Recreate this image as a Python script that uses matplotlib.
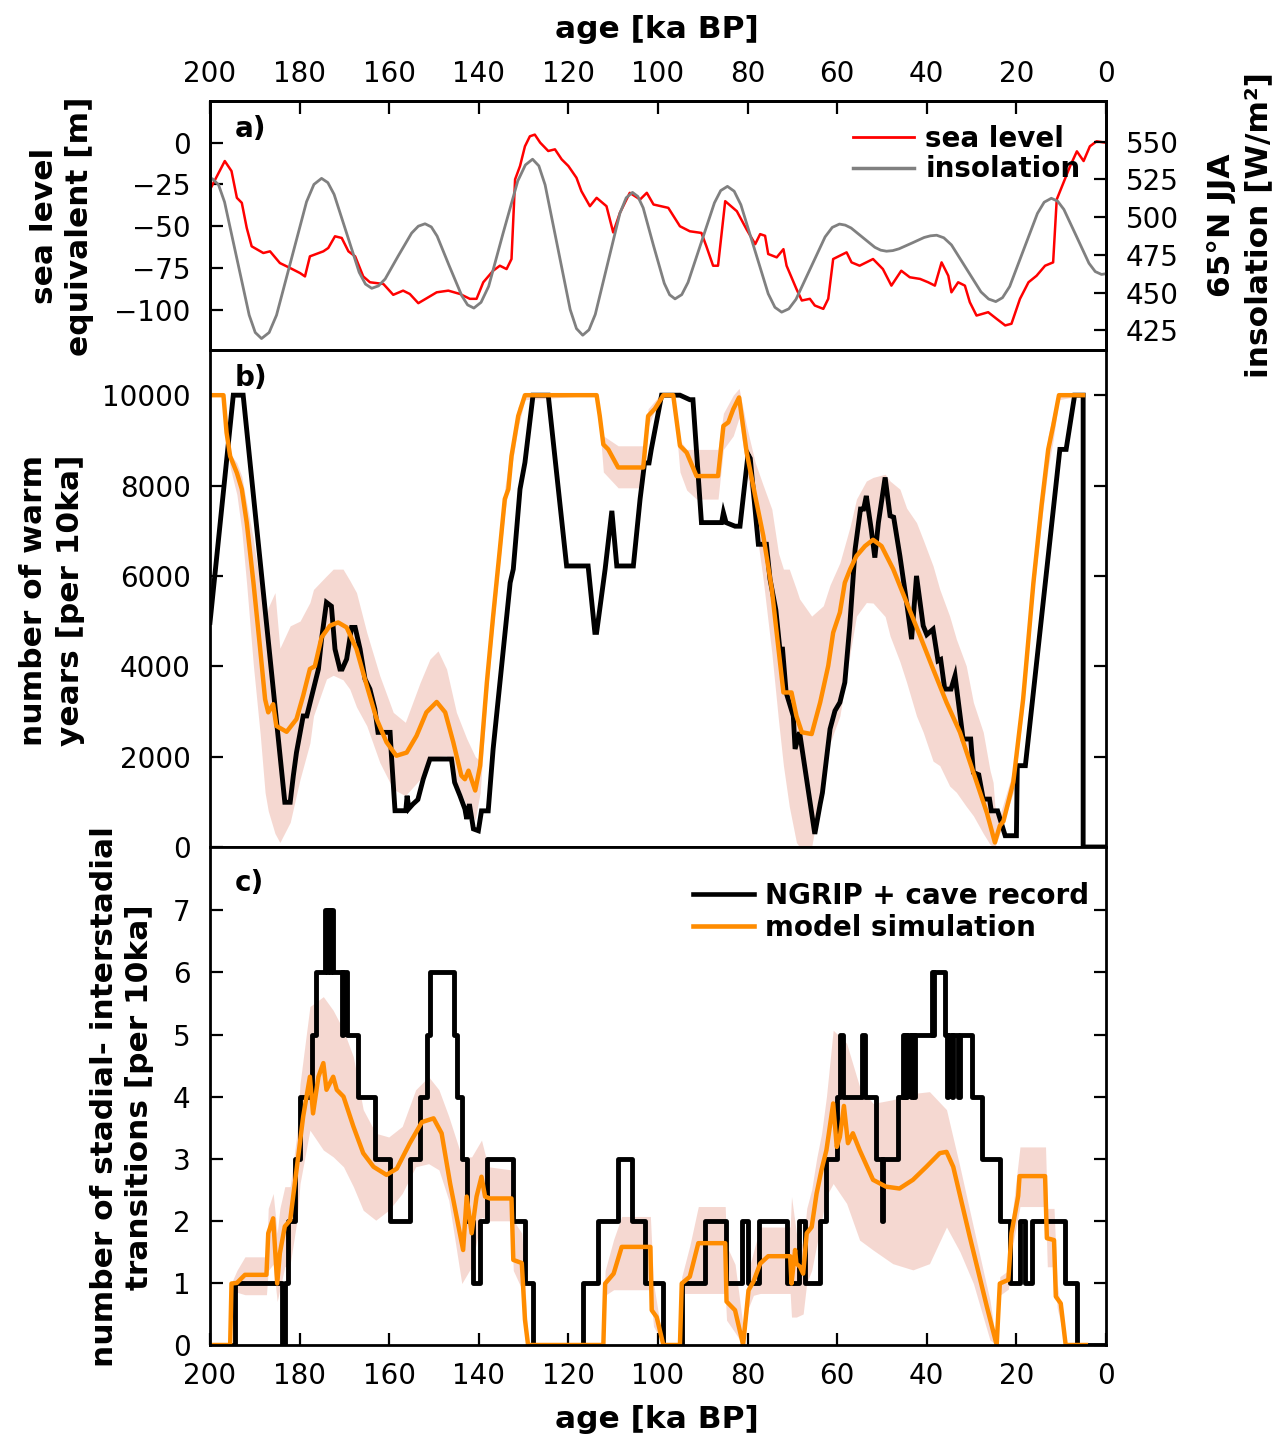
import matplotlib
matplotlib.use("Agg")
import matplotlib.pyplot as plt
from matplotlib.lines import Line2D

# ---- data (age in ka BP) ----
# a) sea level [m]
sl_age = [200.0, 199.6, 196.7, 195.2, 194.0, 192.9, 191.8, 190.7, 188.1, 186.6, 184.4, 182.1, 179.9,
          178.8, 177.7, 174.7, 173.6, 172.1, 170.6, 169.1, 167.6, 165.8, 164.3, 161.3, 159.1, 156.9,
          155.4, 153.5, 151.6, 149.4, 146.8, 144.2, 142.0, 140.5, 139.0, 136.8, 135.3, 133.8, 132.7,
          131.9, 130.8, 129.7, 128.6, 127.5, 126.3, 124.5, 123.0, 121.5, 120.0, 118.2, 117.1, 115.2,
          113.7, 111.5, 110.0, 108.5, 106.3, 104.0, 102.5, 101.0, 97.7, 95.1, 92.9, 90.3, 89.2, 87.7,
          86.6, 85.0, 82.4, 80.2, 78.3, 77.2, 76.1, 75.4, 73.5, 72.0, 71.3, 69.1, 67.9, 66.1, 65.0,
          63.1, 62.0, 60.9, 57.9, 56.8, 55.0, 52.0, 49.8, 47.9, 45.7, 43.8, 41.5, 39.7, 38.2, 36.7,
          35.2, 34.5, 33.0, 31.5, 30.4, 28.9, 26.3, 24.4, 22.5, 21.1, 19.2, 17.3, 15.5, 13.6, 11.8,
          11.0, 9.5, 8.0, 6.5, 5.0, 3.6, 2.1, 0.2]
sl_val = [-28, -26, -11, -17, -33, -36, -51, -62, -66, -65, -72, -75, -78,
          -80, -68, -65, -63, -56, -57, -65, -68, -80, -83.5, -84.5, -91, -88.5,
          -90.5, -96, -93, -89.5, -88.5, -90.5, -93.4, -93.4, -83.5, -76.6, -73.6, -75.6, -69.6,
          -22, -14, -2.2, 3.8, 4.8, 0, -5, -4, -10, -14, -21, -29, -38,
          -33, -38, -53.7, -42, -30, -34, -30, -37, -39, -50, -53, -54, -62, -73.6,
          -73.6, -35, -41, -52, -60.7, -54.7, -55.7, -66.6, -68.6, -63.7, -73.6, -87.5, -94.4, -93.4, -97.4,
          -99.4, -93.4, -69.6, -65.6, -71.6, -73.6, -69.6, -75.6, -85.5, -76.6, -80.5, -81.5, -83.5, -85.5, -71.6,
          -79.6, -89.5, -83.5, -85.5, -95.4, -103.4, -101.4, -105.4, -109.3, -108.3, -93.4, -83.5, -79.6, -73.6, -71.6,
          -34, -24, -14, -5.2, -11, -2.2, 0.8, 0]

# a) 65N JJA insolation [W/m2]
ins_age = [200.0, 199.5, 198.1, 196.75, 194.0, 191.25, 189.9, 188.5, 186.8, 185.15, 181.8, 178.45, 176.8,
           175.1, 173.7, 172.3, 169.5, 166.7, 165.3, 163.9, 162.4, 160.9, 158.0, 155.0, 153.5, 152.0,
           150.6, 149.3, 146.6, 143.8, 142.5, 141.1, 139.5, 137.8, 134.6, 131.3, 129.6, 128.0, 126.6,
           125.2, 122.4, 119.6, 118.2, 116.8, 115.4, 114.0, 111.25, 108.5, 107.1, 105.7, 104.5, 103.3,
           101.0, 98.6, 97.4, 96.2, 94.7, 93.3, 90.35, 87.4, 86.0, 84.5, 83.0, 81.5, 78.45, 75.4, 73.9,
           72.4, 70.8, 69.2, 65.95, 62.7, 61.1, 59.5, 58.2, 56.9, 54.25, 51.6, 50.3, 49.0, 47.6, 46.2,
           43.4, 40.6, 39.2, 37.8, 36.2, 34.5, 31.2, 27.9, 26.2, 24.6, 23.1, 21.5, 18.4, 15.3, 13.8,
           12.2, 10.8, 9.4, 6.6, 3.8, 2.4, 1.0, 0.0]
ins_val = [524.5, 525.5, 521.5, 510.0, 472.5, 435.0, 423.5, 419.5, 423.5, 435.0, 472.6, 510.2, 521.7,
           525.7, 522.9, 515.1, 489.3, 463.4, 455.6, 452.8, 454.4, 459.0, 474.2, 489.4, 494.0, 495.6,
           493.5, 487.4, 467.7, 447.9, 441.8, 439.7, 443.5, 454.1, 489.1, 524.0, 534.6, 538.4, 534.0,
           521.4, 480.1, 438.7, 426.1, 421.7, 425.3, 435.5, 469.1, 502.6, 512.8, 516.4, 513.7, 506.1,
           481.1, 456.1, 448.5, 445.8, 448.6, 456.7, 483.1, 509.5, 517.6, 520.4, 517.2, 508.2, 478.7, 449.2, 440.2,
           437.0, 439.2, 445.5, 466.2, 486.9, 493.2, 495.4, 494.7, 492.8, 486.4, 480.0, 478.1, 477.4, 477.8, 479.0,
           482.7, 486.5, 487.6, 488.0, 486.3, 481.6, 466.0, 450.4, 445.7, 444.0, 446.6, 454.0, 478.3, 502.5, 509.9,
           512.5, 510.6, 505.1, 487.3, 469.4, 463.9, 462.0, 462.5]

# b) number of warm years per 10 ka, NGRIP + cave record
wy_obs_age = [200.0, 194.8, 192.6, 183.3, 182.1, 181.4, 180.7, 179.2, 178.4, 176.9, 175.8, 175.1, 174.0,
              172.9, 172.1, 171.0, 170.5, 169.5, 168.4, 167.6, 166.5, 165.4, 164.3, 163.2, 162.5, 159.8,
              159.5, 158.7, 156.3, 156.0, 155.6, 154.7, 153.6, 152.4, 150.9, 146.1, 145.4, 144.2, 143.1,
              142.7, 142.1, 141.2, 140.1, 139.4, 137.9, 136.8, 134.9, 133.0, 132.3, 130.8, 129.7, 127.9,
              124.5, 120.4, 115.6, 114.1, 113.7, 111.8, 110.3, 109.2, 105.5, 104.0, 103.0, 102.0, 101.5,
              99.2, 95.1, 92.9, 92.2, 90.3, 85.8, 85.4, 84.8, 82.8, 81.7, 79.9, 79.4, 77.6, 75.8, 75.0,
              73.7, 72.8, 72.2, 71.4, 69.8, 69.4, 68.4, 65.0, 63.8, 63.3, 61.6, 60.5, 59.4, 58.3, 57.2,
              56.0, 54.8, 54.1, 53.5, 52.4, 51.6, 50.8, 49.3, 48.2, 47.4, 46.0, 44.5, 43.4, 42.3, 40.8,
              40.0, 38.6, 37.5, 36.9, 36.0, 34.6, 33.7, 33.2, 31.9, 30.2, 29.6, 28.4, 27.4, 26.0, 25.6,
              24.2, 23.3, 22.5, 20.0, 19.8, 18.0, 10.3, 8.9, 7.0, 5.1, 5.1, 0.0]
wy_obs_val = [4970, 10000, 10000, 990, 990, 1577, 2090, 2900, 2900, 3495, 3937, 4600, 5413,
              5330, 4380, 3937, 3937, 4160, 4860, 4860, 4380, 3716, 3495, 3053, 2537, 2537,
              2020, 803, 803, 1135, 850, 950, 1050, 1504, 1947, 1947, 1430, 1135, 840,
              620, 950, 400, 360, 800, 800, 2170, 4000, 5850, 6150, 7920, 8510, 10000,
              10000, 6220, 6220, 4750, 4750, 6150, 7440, 6220, 6220, 7700, 8500, 8500, 8800,
              10000, 10000, 9900, 9900, 7180, 7180, 7400, 7180, 7100, 7100, 8690, 8600, 6700, 6700, 5930,
              5250, 4380, 4380, 3420, 2900, 2170, 2540, 290, 950, 1200, 2610, 3015, 3200, 3640, 4895,
              6590, 7480, 7480, 7770, 7030, 6405, 7180, 8180, 7330, 7300, 6440, 5410, 4600, 6000, 4895,
              4700, 4820, 4120, 4150, 3495, 3495, 3790, 3400, 2390, 2390, 1650, 1600, 1060, 1060, 800,
              800, 510, 250, 250, 1800, 1800, 8800, 8800, 10000, 10000, 0, 0]

# b) model simulation (median) and spread
wy_mod_age = [200.0, 197.0, 196.3, 195.5, 194.0, 192.9, 191.8, 190.3, 188.8, 187.7, 187.0, 185.9, 185.2,
              182.9, 180.7, 179.2, 177.7, 176.6, 175.1, 173.2, 171.4, 169.5, 167.3, 165.0, 162.8, 160.6,
              158.4, 156.1, 153.9, 151.7, 149.4, 147.5, 145.7, 143.9, 143.1, 142.3, 140.8, 139.7, 138.2,
              136.8, 135.3, 134.2, 133.4, 132.7, 131.2, 129.7, 113.7, 113.0, 112.2, 111.1, 108.9, 103.3,
              102.2, 100.7, 98.8, 96.6, 95.1, 93.6, 91.4, 86.6, 85.4, 84.3, 83.2, 81.9, 80.2, 78.3, 76.5,
              74.6, 73.1, 72.0, 70.2, 69.1, 67.9, 65.7, 63.8, 62.0, 60.9, 59.4, 58.3, 57.1, 55.7, 53.8,
              52.0, 50.1, 47.5, 44.5, 41.5, 38.6, 35.6, 32.6, 29.6, 26.6, 24.8, 23.7, 22.9, 20.7, 18.5,
              16.2, 14.4, 12.9, 11.8, 10.5, 5.1]
wy_mod_val = [10000, 10000, 9170, 8650, 8280, 7920, 7180, 5850, 4380, 3270, 2980, 3160, 2680,
              2550, 2830, 3350, 3940, 4000, 4640, 4900, 4970, 4860, 4380, 3570, 2830, 2320,
              2020, 2090, 2460, 2980, 3210, 2980, 2320, 1580, 1500, 1690, 1250, 1800, 3640,
              5110, 6590, 7700, 7920, 8650, 9540, 10000, 10000, 9540, 8910, 8800, 8400, 8400,
              9540, 9700, 10000, 10000, 8880, 8730, 8210, 8210, 9320, 9400, 9690, 9950, 8730, 7770, 6890,
              5710, 4380, 3420, 3420, 2900, 2540, 2500, 3200, 4010, 4745, 5190, 5850, 6150, 6440, 6660,
              6800, 6660, 6150, 5410, 4670, 3940, 3200, 2540, 1650, 760, 100, 470, 570, 1430, 3270,
              5850, 7550, 8800, 9320, 10000, 10000]

wy_band_age = [200.0, 197.0, 196.3, 195.5, 194.0, 192.9, 191.8, 190.3, 188.8, 187.7, 187.0, 185.5, 184.4,
               182.1, 179.9, 177.7, 176.9, 174.0, 172.5, 170.3, 168.8, 167.3, 165.0, 162.1, 159.1, 156.4,
               153.1, 150.9, 149.1, 147.2, 145.0, 142.7, 140.8, 139.7, 138.2, 136.8, 135.3, 134.2, 132.7,
               131.2, 129.7, 113.7, 113.0, 112.2, 108.9, 103.3, 102.2, 99.6, 96.6, 95.1, 93.6, 91.4, 86.6,
               85.4, 83.2, 81.9, 80.2, 78.3, 76.5, 74.6, 73.1, 72.0, 70.7, 69.1, 68.4, 65.7, 63.1, 61.6,
               59.4, 57.1, 55.7, 53.5, 52.0, 49.3, 48.2, 46.0, 44.5, 42.3, 40.8, 38.6, 37.1, 34.9, 33.4,
               31.2, 29.6, 27.4, 25.9, 25.2, 24.8, 23.7, 20.7, 18.5, 16.2, 14.4, 12.9, 11.8, 10.5, 5.1]
wy_band_lo = [10000, 10000, 9000, 8400, 7800, 7000, 5800, 4000, 2500, 1200, 800, 300, 100,
              545, 1500, 2300, 2900, 3720, 3800, 3700, 3495, 3100, 2680, 1870, 1280, 1135,
              1500, 1950, 2000, 2020, 1430, 915, 600, 1200, 3300, 4800, 6300, 7400, 8400,
              9300, 9900, 10000, 9300, 8300, 7950, 7950, 9300, 9950, 10000, 8300, 7900, 7700, 7700,
              8800, 9100, 9500, 8300, 7200, 5900, 4300, 2800, 1800, 900, 100, 0, 0, 1470, 2300,
              2900, 4300, 5110, 5410, 5400, 5100, 4670, 4100, 3640, 2900, 2540, 1900, 1800, 1350, 1210,
              900, 690, 300, 60, 0, 0, 300, 1200, 3000, 5600, 7200, 8400, 9000, 9900, 10000]
wy_band_hi = [10000, 10000, 9200, 8700, 8500, 8200, 7600, 6800, 5800, 5000, 5300, 5630, 4400,
              4895, 5000, 5410, 5700, 6000, 6150, 6150, 5900, 5630, 4745, 3790, 2980, 2760,
              3640, 4160, 4340, 3940, 2980, 2400, 2000, 1900, 3900, 5400, 6900, 7950, 8900,
              9750, 10000, 10000, 9700, 9100, 8880, 8880, 9700, 10000, 10000, 9000, 8800, 8800, 8800,
              9600, 10000, 10150, 9300, 8510, 8000, 7480, 6500, 6150, 6150, 5700, 5490, 5110, 5340, 5800,
              6290, 7100, 7700, 8100, 8180, 8250, 8100, 7920, 7500, 7180, 6800, 6220, 5700, 5110, 4600,
              4010, 3200, 2540, 1700, 1430, 900, 700, 1700, 3600, 6200, 7900, 9100, 9600, 10000, 10000]

# c) stadial-interstadial transitions per 10 ka, record (step changes: level from that age on)
tr_obs_age = [200.0, 194.4, 184.0, 183.3, 182.7, 181.0, 179.9, 177.3, 176.3, 174.3, 173.9, 173.75, 173.2,
              173.05, 172.5, 170.6, 170.25, 169.5, 167.0, 163.2, 159.8, 155.4, 153.1, 151.6, 151.0, 145.6,
              144.9, 143.8, 142.7, 141.2, 139.7, 138.1, 132.3, 129.7, 127.8, 116.7, 113.3, 108.85, 105.9,
              102.9, 98.8, 94.7, 89.5, 84.9, 81.3, 80.0, 77.4, 71.3, 68.6, 67.2, 63.8, 62.5, 60.1, 59.4,
              58.6, 54.5, 53.8, 51.4, 50.0, 49.7, 46.35, 45.3, 45.1, 44.9, 44.6, 44.4, 43.6, 43.3, 42.9,
              42.6, 38.9, 38.6, 38.4, 36.0, 35.5, 35.3, 34.4, 34.1, 33.0, 32.7, 30.0, 27.75, 23.66, 21.43,
              19.2, 18.08, 16.59, 9.15, 6.55, 0.0]
tr_obs_val = [0, 1, 0, 1, 2, 3, 4, 5, 6, 7, 6, 7, 6,
              7, 6, 5, 6, 5, 4, 3, 2, 3, 4, 5, 6, 5,
              4, 3, 2, 1, 2, 3, 2, 1, 0, 1, 2, 3, 2,
              1, 0, 1, 2, 1, 2, 1, 2, 1, 2, 1, 2, 3, 4, 5,
              4, 5, 4, 3, 2, 3, 4, 5, 4, 5, 4, 5, 4, 5, 4,
              5, 6, 5, 6, 5, 4, 5, 4, 5, 4, 5, 4, 3, 2, 1,
              2, 1, 2, 1, 0, 0]

tr_mod_age = [200.0, 195.5, 195.2, 194.0, 192.2, 187.4, 187.0, 185.9, 185.0, 184.4, 183.3, 182.1, 180.6,
              179.2, 177.7, 177.0, 175.8, 174.7, 174.0, 172.5, 171.7, 170.2, 168.0, 165.8, 163.5, 160.6,
              158.3, 155.4, 152.7, 150.1, 148.3, 146.4, 143.5, 142.7, 141.6, 140.5, 139.4, 138.6, 137.5,
              132.7, 132.3, 130.4, 129.7, 129.0, 112.2, 111.8, 109.9, 108.1, 101.7, 101.4, 100.3, 98.8,
              95.1, 94.7, 92.9, 91.0, 85.0, 84.7, 82.8, 81.0, 79.8, 78.7, 77.2, 75.4, 70.5, 70.2, 69.4,
              69.1, 68.3, 67.6, 66.8, 65.7, 64.6, 63.5, 62.4, 60.9, 60.1, 59.4, 58.5, 57.6, 56.5, 55.0,
              52.0, 49.1, 46.1, 43.1, 40.1, 37.1, 35.6, 34.1, 30.4, 26.6, 24.4, 23.7, 21.8, 21.1, 19.6,
              19.3, 13.6, 13.2, 11.6, 11.2, 10.1, 9.0, 4.5]
tr_mod_val = [0, 0, 0.99, 1.0, 1.13, 1.13, 1.80, 2.04, 0.99, 1.48, 1.91, 2.01, 2.87,
              3.68, 4.32, 3.73, 4.32, 4.54, 4.11, 4.32, 4.11, 4.00, 3.52, 3.09, 2.87, 2.74,
              2.84, 3.25, 3.59, 3.65, 3.41, 2.60, 1.53, 2.39, 1.80, 2.39, 2.71, 2.39, 2.36,
              2.36, 1.37, 1.32, 0.41, 0, 0, 0.99, 1.15, 1.58, 1.58, 0.56, 0.45, 0,
              0, 0.99, 1.1, 1.64, 1.64, 0.70, 0.56, 0, 0.88, 1.02, 1.31, 1.43, 1.43, 0.99, 1.53,
              1.31, 1.26, 1.15, 1.80, 1.90, 2.44, 2.82, 3.14, 3.89, 3.19, 3.35, 3.85, 3.25, 3.41, 3.14,
              2.66, 2.55, 2.52, 2.66, 2.87, 3.09, 3.11, 2.87, 1.74, 0.62, 0.0, 0.99, 1.05, 1.80, 2.4,
              2.72, 2.72, 1.72, 1.69, 0.78, 0.67, 0, 0]

tr_band_age = [200.0, 195.5, 195.2, 194.0, 192.2, 187.4, 187.0, 185.9, 185.0, 184.4, 183.3, 182.1, 180.6,
               179.9, 177.7, 174.7, 172.5, 170.2, 168.0, 165.8, 163.0, 160.1, 157.1, 154.1, 151.2, 148.9,
               146.7, 143.8, 141.6, 139.4, 137.9, 132.7, 132.3, 130.4, 129.7, 129.0, 112.2, 111.8, 109.9,
               108.1, 101.7, 101.0, 98.8, 95.1, 94.7, 92.9, 91.0, 85.0, 84.7, 82.8, 81.0, 79.8, 78.7, 77.2,
               70.5, 70.2, 69.1, 67.6, 66.8, 65.7, 64.6, 63.5, 62.4, 60.9, 57.9, 55.0, 52.0, 47.6, 43.1,
               39.4, 35.6, 32.6, 29.6, 25.9, 24.4, 23.7, 21.8, 21.1, 19.2, 13.5, 13.1, 11.6, 10.9, 9.0, 4.5]
tr_band_lo = [0, 0, 0.9, 0.85, 0.81, 0.81, 1.2, 1.3, 0.7, 0.9, 1.26, 1.3, 2.0,
              2.6, 3.46, 3.14, 3.03, 2.87, 2.55, 2.17, 2.01, 2.17, 2.44, 2.87, 2.92, 2.82,
              2.33, 0.99, 1.26, 2.06, 2.0, 2.0, 1.2, 0.9, 0.1, 0, 0, 0.8, 0.89,
              0.89, 0.89, 0.3, 0, 0, 0.83, 0.83, 0.83, 0.83, 0.4, 0.2, 0, 0.6, 0.8, 0.83,
              0.83, 0.45, 0.45, 0.5, 1.0, 1.2, 1.6, 2.0, 2.4, 2.6, 2.28, 1.69, 1.53, 1.31, 1.21,
              1.31, 1.90, 1.5, 0.99, 0.08, 0, 0.8, 0.9, 1.5, 2.23, 2.23, 1.26, 1.26, 0.6, 0, 0]
tr_band_hi = [0, 0, 1.0, 1.2, 1.42, 1.42, 2.2, 2.44, 1.8, 2.2, 2.55, 2.55, 3.4,
              4.21, 5.45, 5.61, 5.39, 5.07, 4.64, 3.79, 3.41, 3.35, 3.52, 4.11, 4.32, 4.11,
              3.68, 3.03, 3.03, 3.30, 2.87, 2.82, 2.01, 1.8, 1.0, 0, 0, 1.2, 1.7,
              2.07, 2.07, 1.0, 0, 0, 1.1, 1.6, 2.23, 2.23, 1.6, 1.3, 0.3, 1.2, 1.5, 1.9,
              1.9, 2.39, 1.8, 1.6, 2.2, 2.5, 3.0, 3.4, 4.0, 5.07, 4.86, 4.16, 3.89, 3.95, 4.05,
              4.08, 3.79, 2.87, 1.90, 0.72, 0, 1.1, 1.2, 2.0, 3.19, 3.19, 2.2, 2.2, 1.0, 0, 0]

age_ticks = [200, 180, 160, 140, 120, 100, 80, 60, 40, 20, 0]

# ---- style ----
plt.rcParams.update({
    "font.family": "DejaVu Sans",
    "font.size": 20,
    "axes.linewidth": 2.0,
    "xtick.direction": "in",
    "ytick.direction": "in",
    "xtick.major.size": 9,
    "ytick.major.size": 9,
    "xtick.major.width": 1.6,
    "ytick.major.width": 1.6,
})

BLACK, ORANGE, SHADE = "black", "#ff8c00", "#e07f68"
LBL = dict(fontsize=22.5, fontweight="bold")

fig = plt.figure(figsize=(12.8, 14.41), dpi=100)
W, H = 1280, 1441


def add_ax(top, bottom):
    return fig.add_axes([210 / W, 1 - bottom / H, 896 / W, (bottom - top) / H])


ax_a = add_ax(101, 350)
ax_b = add_ax(350, 847)
ax_c = add_ax(847, 1345)

# a) sea level + insolation
ax_a.plot(sl_age, sl_val, color="red", lw=1.8)
ax_a.set_ylim(-124, 24.9)
ax_a.set_yticks([0, -25, -50, -75, -100])
ax_a.tick_params(axis="y", left=True, right=False, pad=14)
ax_a.tick_params(axis="x", top=True, bottom=False, labeltop=True, labelbottom=False, pad=9)
ax_ins = ax_a.twinx()
ax_ins.plot(ins_age, ins_val, color="#808080", lw=2.0)
ax_ins.set_ylim(411.9, 577)
ax_ins.set_yticks([550, 525, 500, 475, 450, 425])
ax_ins.tick_params(axis="y", right=True, pad=14)
ax_ins.legend(handles=[Line2D([], [], color="red", lw=2), Line2D([], [], color="#808080", lw=2.5)],
              labels=["sea level", "insolation"], loc="upper left", bbox_to_anchor=(0.7176, 0.905),
              frameon=False, borderpad=0, borderaxespad=0, handlelength=2.2, handletextpad=0.4,
              labelspacing=0.1, prop=dict(size=20, weight="bold"))
ax_a.text(0.028, 0.888, "a)", transform=ax_a.transAxes, fontsize=20, fontweight="bold", va="center")

# b) warm years
ax_b.plot(wy_obs_age, wy_obs_val, color=BLACK, lw=3.5, solid_joinstyle="miter")
ax_b.fill_between(wy_band_age, wy_band_lo, wy_band_hi, color=SHADE, alpha=0.3, lw=0)
ax_b.plot(wy_mod_age, wy_mod_val, color=ORANGE, lw=3.2)
ax_b.set_ylim(0, 11000)
ax_b.set_yticks(range(0, 10001, 2000))
ax_b.tick_params(axis="y", left=True, right=True, pad=14)
ax_b.tick_params(axis="x", top=False, bottom=False, labelbottom=False)
ax_b.text(0.028, 0.944, "b)", transform=ax_b.transAxes, fontsize=20, fontweight="bold", va="center")

# c) transitions
ax_c.step(tr_obs_age, tr_obs_val, where="post", color=BLACK, lw=3.5)
ax_c.fill_between(tr_band_age, tr_band_lo, tr_band_hi, color=SHADE, alpha=0.3, lw=0)
ax_c.plot(tr_mod_age, tr_mod_val, color=ORANGE, lw=3.2)
ax_c.set_ylim(0, 8.02)
ax_c.set_yticks(range(0, 8))
ax_c.tick_params(axis="y", left=True, right=True, pad=14)
ax_c.tick_params(axis="x", top=False, bottom=True, pad=12)
ax_c.legend(handles=[Line2D([], [], color=BLACK, lw=3.3), Line2D([], [], color=ORANGE, lw=3.3)],
            labels=["NGRIP + cave record", "model simulation"], loc="upper left",
            bbox_to_anchor=(0.539, 0.93), frameon=False, borderpad=0, borderaxespad=0,
            handlelength=2.2, handletextpad=0.4, labelspacing=0.15, prop=dict(size=20, weight="bold"))
ax_c.text(0.028, 0.928, "c)", transform=ax_c.transAxes, fontsize=20, fontweight="bold", va="center")

for ax in (ax_a, ax_b, ax_c):
    ax.set_xlim(200, 0)
    ax.set_xticks(age_ticks)
    for s in ax.spines.values():
        s.set_zorder(5)

# axis labels
fig.text(657 / W, 1 - 30 / H, "age [ka BP]", ha="center", va="center", **LBL)
fig.text(657 / W, 1 - 1420 / H, "age [ka BP]", ha="center", va="center", **LBL)
fig.text(62 / W, 1 - 226 / H, "sea level\nequivalent [m]", rotation=90, ha="center", va="center",
         multialignment="center", linespacing=1.3, **LBL)
fig.text(52 / W, 1 - 600 / H, "number of warm\nyears [per 10ka]", rotation=90, ha="center",
         va="center", multialignment="center", linespacing=1.35, **LBL)
fig.text(122 / W, 1 - 1097 / H, "number of stadial- interstadial\ntransitions [per 10ka]", rotation=90,
         ha="center", va="center", multialignment="center", linespacing=1.3, **LBL)
fig.text(1240 / W, 1 - 225 / H, "65°N JJA\ninsolation [W/m²]", rotation=90, ha="center", va="center",
         multialignment="center", linespacing=1.35, **LBL)

fig.savefig("out.png", dpi=100)
